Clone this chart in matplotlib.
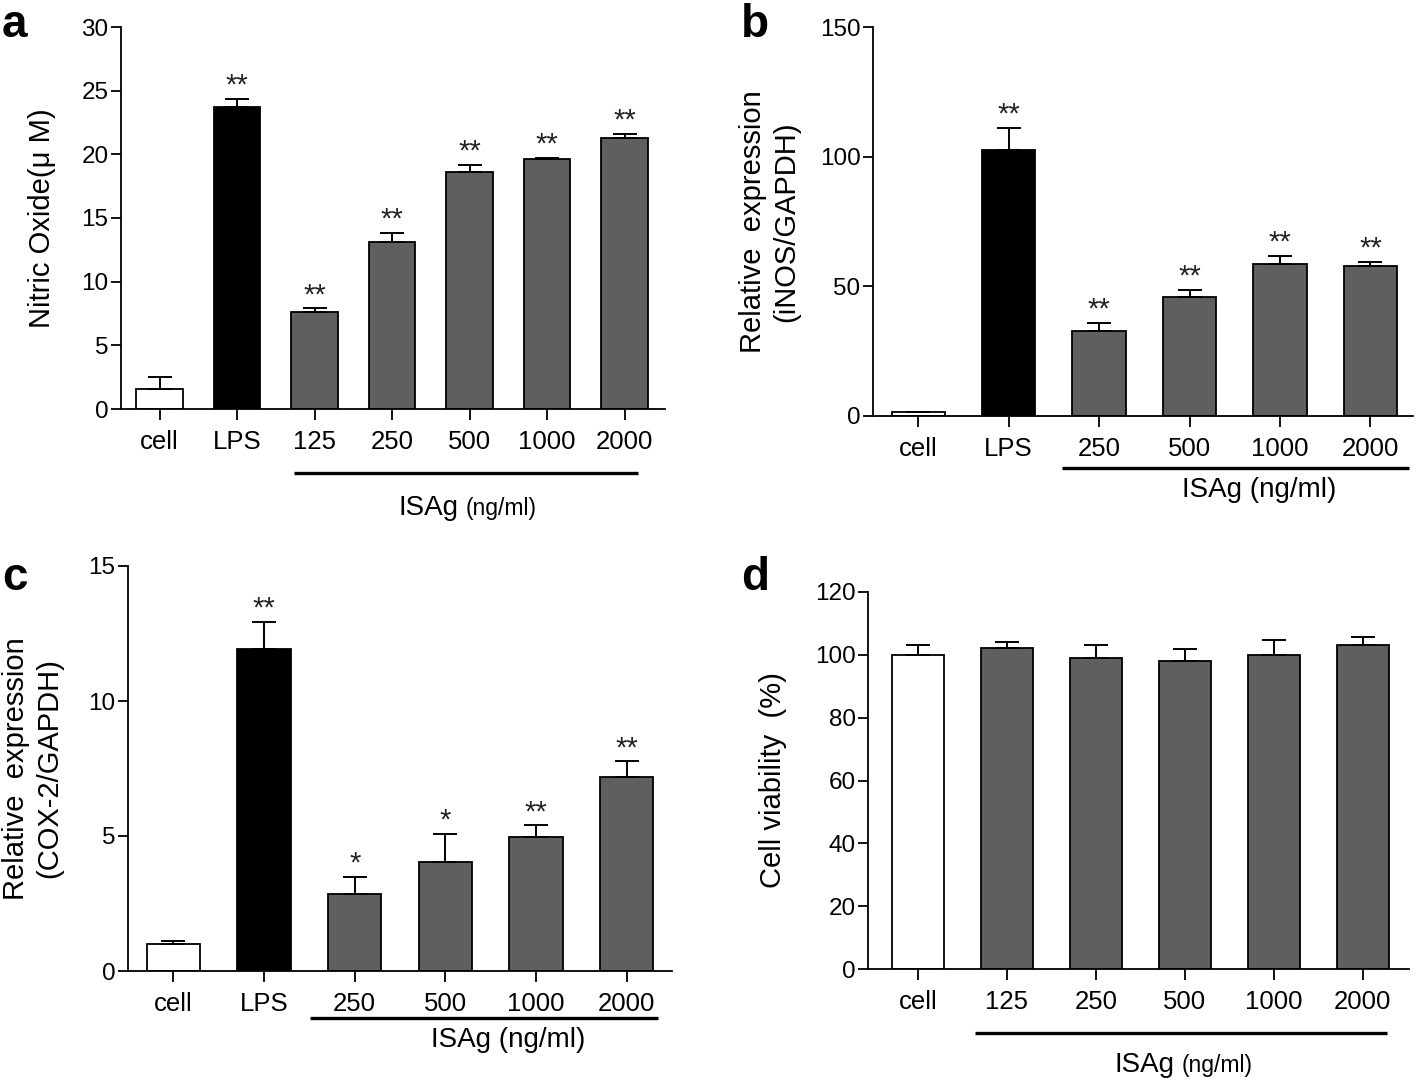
import matplotlib
matplotlib.use("Agg")
import matplotlib.pyplot as plt
import matplotlib.transforms as mtransforms
import numpy as np

plt.rcParams['font.family'] = ['Liberation Sans', 'DejaVu Sans']

# ---------------- data ----------------
# Panel a: Nitric oxide
a_labels = ["cell", "LPS", "125", "250", "500", "1000", "2000"]
a_means = [1.6, 23.7, 7.65, 13.1, 18.65, 19.6, 21.25]
a_upper = [2.5, 24.35, 7.9, 13.85, 19.15, 19.72, 21.62]
a_stars = ["", "**", "**", "**", "**", "**", "**"]

# Panel b: iNOS/GAPDH
b_labels = ["cell", "LPS", "250", "500", "1000", "2000"]
b_means = [1.5, 102.7, 32.8, 45.9, 58.7, 57.8]
b_upper = [1.5, 111.2, 35.9, 48.7, 61.8, 59.4]
b_stars = ["", "**", "**", "**", "**", "**"]

# Panel c: COX-2/GAPDH
c_labels = ["cell", "LPS", "250", "500", "1000", "2000"]
c_means = [1.0, 11.93, 2.85, 4.04, 4.98, 7.18]
c_upper = [1.12, 12.92, 3.49, 5.09, 5.39, 7.76]
c_stars = ["", "**", "*", "*", "**", "**"]

# Panel d: cell viability
d_labels = ["cell", "125", "250", "500", "1000", "2000"]
d_means = [100.0, 102.1, 99.1, 98.1, 100.0, 103.1]
d_upper = [103.2, 104.1, 103.2, 101.7, 104.7, 105.8]
d_stars = ["", "", "", "", "", ""]

WHITE, BLACK, GRAY = "#ffffff", "#000000", "#5f5f5f"

W, H = 1418, 1081
fig = plt.figure(figsize=(W / 100, H / 100), dpi=100)


def add_ax(left, right, top, bottom):
    return fig.add_axes([left / W, 1 - bottom / H, (right - left) / W, (bottom - top) / H])


def panel(ax, labels, means, upper, stars, colors, ylim, yticks, xlim, width,
          ylabel, ylab_x, uline, isag, small_unit):
    x = np.arange(len(labels))
    means = np.array(means)
    upper = np.array(upper)
    ax.bar(x, means, width=width, color=colors, edgecolor="black", linewidth=1.3, zorder=2)
    yerr = np.vstack([np.zeros_like(means), upper - means])
    ax.errorbar(x, means, yerr=yerr, fmt="none", ecolor="black", elinewidth=1.4,
                capsize=8.5, capthick=1.4, zorder=3)
    for xi, up, s in zip(x, upper, stars):
        if s:
            ax.annotate(s, (xi, up), xytext=(0, 3.8), textcoords="offset points",
                        ha="center", va="baseline", fontsize=21, color="#222222")
    ax.set_xlim(*xlim)
    ax.set_ylim(*ylim)
    ax.set_yticks(yticks)
    ax.set_xticks(x)
    ax.set_xticklabels(labels)
    for sp in ["top", "right"]:
        ax.spines[sp].set_visible(False)
    for sp in ["left", "bottom"]:
        ax.spines[sp].set_linewidth(1.3)
    ax.tick_params(axis="y", length=7, width=1.3, pad=2, labelsize=17.5)
    ax.tick_params(axis="x", length=8, width=1.3, pad=7, labelsize=18.5)
    ax.set_ylabel(ylabel, fontsize=21, va="center", ha="center", linespacing=1.25)
    ax.yaxis.set_label_coords(ylab_x, 0.5)
    # underline below the ISAg doses
    trans = mtransforms.blended_transform_factory(ax.transData, ax.transAxes)
    x0, x1, yl = uline
    ax.plot([x0, x1], [yl, yl], color="black", lw=2.4, transform=trans, clip_on=False,
            solid_capstyle="butt")
    xc, yb = isag
    if small_unit:
        ax.text(xc, yb, "ISAg", transform=trans, ha="right", va="baseline", fontsize=20)
        ax.text(xc + 0.09, yb, "(ng/ml)", transform=trans, ha="left", va="baseline", fontsize=16.5)
    else:
        ax.text(xc, yb, "ISAg (ng/ml)", transform=trans, ha="center", va="baseline", fontsize=20)


ax_a = add_ax(121, 665, 27, 409)
panel(ax_a, a_labels, a_means, a_upper, a_stars,
      [WHITE, BLACK] + [GRAY] * 5, (0, 30), [0, 5, 10, 15, 20, 25, 30], (-0.5, 6.52), 0.6,
      "Nitric Oxide(\u03bc M)", -0.145, (1.73, 6.17, -0.168), (3.855, -0.277), True)

ax_b = add_ax(873, 1413, 27, 416)
panel(ax_b, b_labels, b_means, b_upper, b_stars,
      [WHITE, BLACK] + [GRAY] * 4, (0, 150), [0, 50, 100, 150], (-0.5, 5.47), 0.59,
      "Relative  expression\n(iNOS/GAPDH)", -0.191, (1.59, 5.43, -0.134), (3.77, -0.208), False)

ax_c = add_ax(128, 672, 566, 971)
panel(ax_c, c_labels, c_means, c_upper, c_stars,
      [WHITE, BLACK] + [GRAY] * 4, (0, 15), [0, 5, 10, 15], (-0.5, 5.5), 0.59,
      "Relative  expression\n(COX-2/GAPDH)", -0.175, (1.51, 5.35, -0.116), (3.69, -0.188), False)

ax_d = add_ax(868, 1409, 592, 969)
panel(ax_d, d_labels, d_means, d_upper, d_stars,
      [WHITE] + [GRAY] * 5, (0, 120), [0, 20, 40, 60, 80, 100, 120], (-0.56, 5.52), 0.585,
      "Cell viability  (%)", -0.175, (0.64, 5.27, -0.170), (2.88, -0.273), True)

for lab, px, py in [("a", 2, 37), ("b", 741, 37), ("c", 2, 590), ("d", 741, 590)]:
    fig.text(px / W, 1 - py / H, lab, fontsize=33, fontweight="bold", ha="left", va="baseline")

fig.savefig("out.png", dpi=100)
